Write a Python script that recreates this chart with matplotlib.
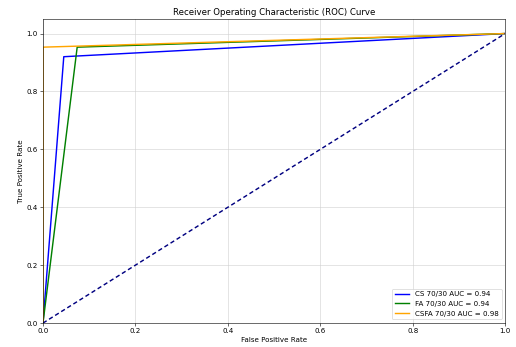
import numpy as np
import matplotlib
matplotlib.use("Agg")
import matplotlib.pyplot as plt

# ROC points
fpr_cs = [0.0, 0.045, 1.0]
tpr_cs = [0.0, 0.92, 1.0]
fpr_fa = [0.0, 0.074, 1.0]
tpr_fa = [0.0, 0.953, 1.0]
fpr_csfa = [0.0, 0.0, 1.0]
tpr_csfa = [0.0, 0.953, 1.0]

labels = ["CS 70/30 AUC = 0.94", "FA 70/30 AUC = 0.94", "CSFA 70/30 AUC = 0.98"]
colors = ["blue", "green", "orange"]

fig = plt.figure(figsize=(10, 6.725), dpi=51.6)
ax = fig.add_subplot(111)
fig.subplots_adjust(left=0.0833, right=0.979, top=0.945, bottom=0.069)

ax.plot(fpr_cs, tpr_cs, color=colors[0], lw=2, label=labels[0])
ax.plot(fpr_fa, tpr_fa, color=colors[1], lw=2, label=labels[1])
ax.plot(fpr_csfa, tpr_csfa, color=colors[2], lw=2, label=labels[2])
ax.plot([0, 1], [0, 1], color="navy", lw=2, linestyle="--", dashes=(3, 2))

ax.set_xlim([0.0, 1.0])
ax.set_ylim([0.0, 1.05])
ax.set_xlabel("False Positive Rate")
ax.set_ylabel("True Positive Rate")
ax.set_title("Receiver Operating Characteristic (ROC) Curve")
ax.legend(loc="lower right")
ax.grid(True, color="#d0d0d0")

fig.savefig("out.png", dpi=51.6)
